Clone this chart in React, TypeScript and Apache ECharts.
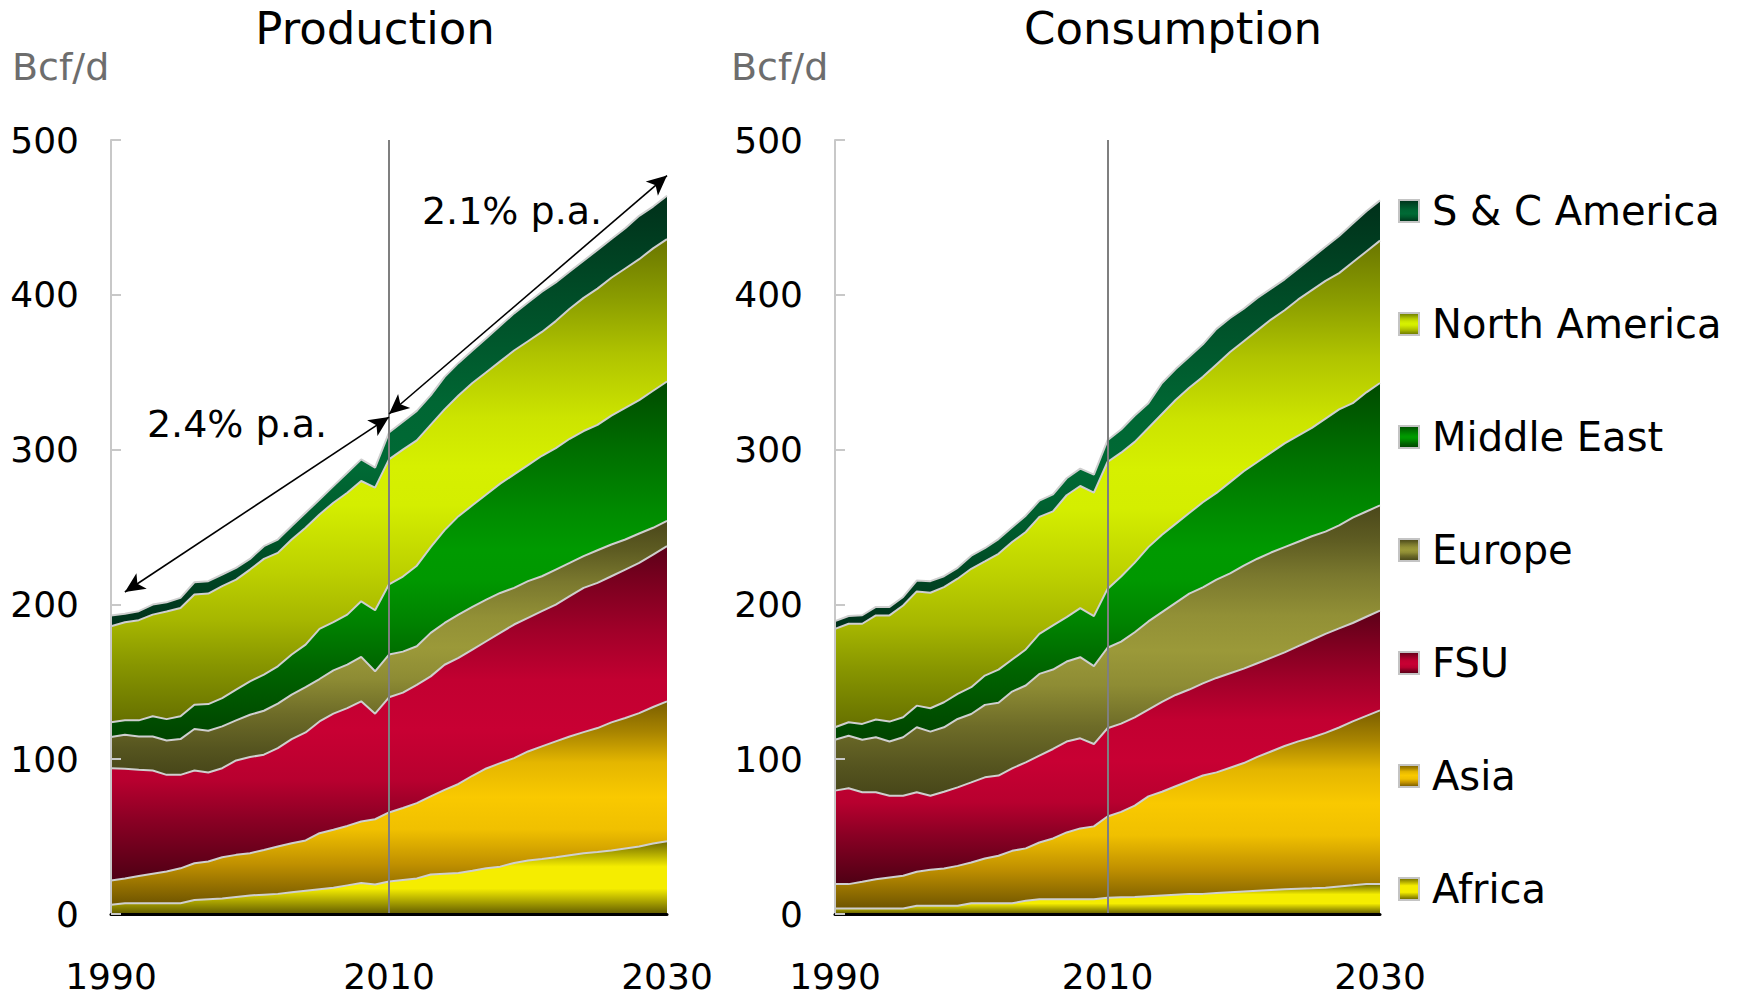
import React, { useEffect, useRef } from 'react';
import * as echarts from 'echarts';

const years = [
  '1990', '1991', '1992', '1993', '1994', '1995', '1996', '1997', '1998', '1999',
  '2000', '2001', '2002', '2003', '2004', '2005', '2006', '2007', '2008', '2009',
  '2010', '2011', '2012', '2013', '2014', '2015', '2016', '2017', '2018', '2019',
  '2020', '2021', '2022', '2023', '2024', '2025', '2026', '2027', '2028', '2029', '2030',
];

// stacking order, bottom to top
const regions = ['Africa', 'Asia', 'FSU', 'Europe', 'Middle East', 'North America', 'S & C America'];
const legendOrder = ['S & C America', 'North America', 'Middle East', 'Europe', 'FSU', 'Asia', 'Africa'];

// Production (Bcf/d)
const prodAfrica = [6, 7, 7, 7, 7, 7, 9, 9.5, 10, 11, 12, 12.5, 13, 14, 15, 16, 17, 18.5, 20, 19, 21, 22, 23, 25.5, 26, 26.5, 28, 29.6, 30.6, 33, 34.5, 35.5, 36.7, 38, 39.3, 40, 41, 42.3, 43.6, 45.5, 47];
const prodAsia = [15.6, 16, 17.6, 19, 20.4, 22.5, 23.8, 24.4, 26.7, 27.2, 27.3, 28.9, 30.6, 31.7, 32.5, 36.2, 37.4, 38.4, 39.8, 42.2, 44.6, 46.5, 48.6, 50.5, 54.2, 57.5, 61.3, 64.4, 66.9, 67.7, 70.5, 72.8, 74.8, 76.7, 78.2, 80.1, 82.8, 84.3, 86.2, 88.2, 90.4];
const prodFSU = [72.6, 70.8, 68.6, 66.7, 62.5, 60.4, 59.9, 57.5, 57.5, 61, 62.1, 61.5, 63.6, 67.3, 69.8, 72.2, 75, 76.1, 77.6, 68.2, 74.4, 74.5, 76.4, 77.5, 80.8, 81.4, 81.5, 82.2, 84.1, 86.3, 86.3, 87.3, 88.4, 90.6, 93.2, 93.8, 94.4, 95.9, 97, 98.5, 100.2];
const prodEurope = [20.1, 22, 21.5, 22, 22.2, 23.1, 26.8, 27, 27, 25.9, 27.3, 28.4, 28.7, 28.7, 29.3, 27.4, 28, 28.1, 28.7, 27.4, 27.6, 26.5, 25, 28.1, 27, 28, 27.6, 26.9, 25.8, 23.7, 23.7, 22.6, 22.6, 21.5, 20.5, 21.1, 20.5, 19.4, 19, 17.3, 16.4];
const prodMiddleEast = [9.5, 9.3, 10.4, 13, 13.8, 14.7, 15.7, 17.2, 18.3, 19.8, 21.6, 23.3, 24.1, 25.9, 27.4, 32.4, 31.1, 32.3, 35.9, 39.4, 45.4, 48.5, 52, 55.4, 60, 63.6, 65.6, 67.9, 70.6, 73.3, 75, 77.8, 78.5, 80.2, 80.8, 81, 83.3, 85.1, 86.2, 88.5, 90];
const prodNorthAmerica = [62.1, 63.4, 64.7, 65.7, 69.5, 70, 71.2, 71.4, 72.3, 71.1, 72.2, 74.8, 73.3, 74.3, 75.5, 73.9, 77.2, 78.7, 77.7, 79.2, 80.7, 82, 81, 79, 78, 78, 79, 79, 79, 80, 80, 80, 82, 84, 86, 88, 89, 90, 91, 92, 92];
const prodSCAmerica = [6.9, 5.5, 5.8, 6.5, 6, 6.5, 7.9, 8, 7.5, 7.6, 6.9, 8.2, 8.6, 8.7, 9.7, 9.7, 10.7, 12.9, 14, 12.9, 17.3, 18, 19, 19, 21, 21, 21, 22, 23, 24, 25, 26, 25, 24, 24, 25, 25, 26, 28, 27, 28];

// Consumption (Bcf/d)
const consAfrica = [3.5, 3.5, 3.5, 3.5, 3.5, 3.5, 5.3, 5.3, 5.3, 5.3, 7, 7, 7, 7, 8.5, 9.5, 9.5, 9.5, 9.5, 9.5, 10.5, 10.8, 11, 11.5, 12, 12.5, 13, 13, 13.5, 14, 14.5, 15, 15.5, 16, 16.3, 16.6, 17, 17.8, 18.5, 19.4, 19.4];
const consAsia = [15.8, 15.8, 17.3, 19, 20.1, 21.2, 22, 23.3, 24.1, 25.8, 26.3, 28.9, 30.6, 33.8, 33.9, 36.7, 39.3, 43.2, 45.8, 47.1, 52.5, 55.2, 59, 64.5, 67, 70, 73, 76.5, 78, 80.5, 83, 86.5, 89.5, 92.5, 95.2, 97.4, 100, 102.7, 105.9, 108.6, 112.1];
const consFSU = [60.4, 61.9, 57.8, 56.1, 52.8, 51.7, 51.3, 47.8, 49.6, 50.7, 51.7, 52.4, 51.8, 53.3, 55.6, 56.1, 57.8, 58.7, 58.2, 53.2, 57, 57, 57, 56, 58, 59, 59, 59.5, 61, 61, 61, 60.5, 60.5, 60.5, 61.5, 63, 64, 64, 63.6, 64, 64.5];
const consEurope = [32.9, 34, 34, 35.6, 35, 37.8, 42, 41.4, 41.6, 44.2, 44.2, 46.8, 47, 49.6, 49.6, 52.8, 51.3, 51.7, 52.4, 50.3, 52, 53, 55, 57, 58, 59.5, 62, 62, 63.5, 64.5, 66.5, 67.5, 68, 68, 67.5, 67, 66, 66.5, 68, 68, 68];
const consMiddleEast = [8, 8.7, 10.2, 11.4, 12.9, 12.9, 14, 15.1, 16.2, 16.2, 17.3, 18.9, 21.5, 20.7, 23.3, 25.9, 28.5, 28.7, 31.7, 32.3, 38, 42, 45, 48, 50, 51, 52, 55, 56, 59, 61, 62.5, 64.5, 67, 68.5, 70, 73, 75, 74, 77, 79];
const consNorthAmerica = [63.6, 63.6, 64.7, 67.3, 68.6, 72.2, 73.8, 74.6, 74.4, 74.4, 76.5, 73.8, 74.8, 75.9, 75.9, 75.5, 73.7, 78.7, 78.9, 79.8, 82, 80, 78, 77, 78, 80, 81, 81, 83, 84, 84, 85, 86, 86, 88, 89, 89, 88, 91, 91, 92];
const consSCAmerica = [5, 5, 5.5, 5.5, 5.5, 5.5, 7, 7.5, 7, 7, 8.5, 8.5, 9.5, 9.5, 10.5, 10.5, 11, 11, 11.2, 11.6, 14, 15, 17, 16, 20, 20, 20, 21, 23, 22, 21, 21, 20, 20, 20, 21, 22, 24, 25, 26, 26];

const prodData = [prodAfrica, prodAsia, prodFSU, prodEurope, prodMiddleEast, prodNorthAmerica, prodSCAmerica];
const consData = [consAfrica, consAsia, consFSU, consEurope, consMiddleEast, consNorthAmerica, consSCAmerica];

// growth annotations
const growthLabels = ['2.4% p.a.', '2.1% p.a.'];

const FONT = '"DejaVu Sans", "Liberation Sans", sans-serif';

const gradientStops: Record<string, [number, string][]> = {
  'Africa': [[0, '#6e6800'], [0.35, '#f5ed00'], [0.65, '#f5ed00'], [1, '#625c00']],
  'Asia': [[0, '#7a5e00'], [0.15, '#a88400'], [0.3, '#e4b600'], [0.47, '#f9c900'], [0.63, '#f0c000'], [0.8, '#c09000'], [1, '#6e5400']],
  'FSU': [[0, '#5c0018'], [0.12, '#7e0020'], [0.25, '#a00029'], [0.4, '#c20031'], [0.55, '#c80033'], [0.7, '#b8002f'], [0.82, '#8a0024'], [1, '#4e0014']],
  'Europe': [[0, '#4a471a'], [0.12, '#5e5c22'], [0.24, '#7a782e'], [0.38, '#929036'], [0.5, '#9b9939'], [0.62, '#8e8c34'], [0.76, '#6e6c28'], [0.9, '#55541f'], [1, '#474619']],
  'Middle East': [[0, '#004a00'], [0.19, '#006e00'], [0.37, '#008c00'], [0.47, '#009a00'], [0.55, '#009800'], [0.67, '#008200'], [0.8, '#006400'], [0.93, '#004e00'], [1, '#004400']],
  'North America': [[0, '#6a7600'], [0.12, '#8a9c00'], [0.24, '#b0c400'], [0.37, '#cce400'], [0.47, '#d6f000'], [0.55, '#d4ee00'], [0.69, '#bcd000'], [0.79, '#a6b600'], [0.88, '#889600'], [1, '#667000']],
  'S & C America': [[0, '#00301a'], [0.23, '#004c27'], [0.48, '#006633'], [0.63, '#006a35'], [0.77, '#005a2c'], [1, '#00301a']],
};

function grad(name: string) {
  return new echarts.graphic.LinearGradient(
    0, 0, 0, 1,
    gradientStops[name].map(([offset, color]) => ({ offset, color }))
  );
}

function buildSeries(data: number[][], gi: number) {
  return regions.map((name, i) => {
    const s: any = {
      name,
      type: 'line',
      stack: gi === 0 ? 'prod' : 'cons',
      xAxisIndex: gi,
      yAxisIndex: gi,
      data: data[i],
      symbol: 'none',
      showSymbol: false,
      lineStyle: { color: '#cfcfcf', width: 2 },
      itemStyle: { color: grad(name) },
      areaStyle: { color: grad(name), opacity: 1 },
      emphasis: { disabled: true },
      silent: true,
      z: 2,
    };
    if (i === 0) {
      s.markLine = {
        silent: true,
        symbol: ['none', 'none'],
        label: { show: false },
        lineStyle: { color: '#7f7f7f', width: 2, type: 'solid' },
        data: [{ xAxis: '2010' }],
      };
    }
    if (i === regions.length - 1 && gi === 0) {
      s.markLine = {
        silent: true,
        symbol: ['arrow', 'arrow'],
        symbolSize: [14, 20],
        label: { show: false },
        lineStyle: { color: '#000', width: 1.6, type: 'solid' },
        data: [
          [{ coord: [1, 208] }, { coord: [20, 321] }],
          [{ coord: [20, 323] }, { coord: [40, 477] }],
        ],
      };
    }
    return s;
  });
}

const grids = [
  { left: 111, top: 140, width: 556, height: 774 },
  { left: 835, top: 140, width: 545, height: 774 },
];

function xAxisFor(gi: number) {
  return {
    type: 'category',
    gridIndex: gi,
    data: years,
    boundaryGap: false,
    z: 10,
    axisLine: { show: true, lineStyle: { color: '#000', width: 3 } },
    axisTick: { show: false },
    splitLine: { show: false },
    axisLabel: { interval: 19, fontFamily: FONT, fontSize: 36, color: '#000', margin: 44 },
  };
}

function yAxisFor(gi: number) {
  return {
    type: 'value',
    gridIndex: gi,
    min: 0,
    max: 500,
    interval: 100,
    z: 10,
    axisLine: { show: true, lineStyle: { color: '#c8c8c8', width: 2 } },
    axisTick: { show: true, inside: true, length: 10, lineStyle: { color: '#c8c8c8', width: 2 } },
    splitLine: { show: false },
    axisLabel: { fontFamily: FONT, fontSize: 36, color: '#000', margin: 32 },
  };
}

function textEl(text: string, x: number, y: number, size: number, color: string, align: string) {
  return {
    type: 'text',
    x,
    y,
    silent: true,
    z: 100,
    style: {
      text,
      font: `${size}px ${FONT}`,
      fill: color,
      textAlign: align,
      align,
      textVerticalAlign: 'middle',
      verticalAlign: 'middle',
    },
  };
}

export default function App() {
  const ref = useRef<HTMLDivElement>(null);
  useEffect(() => {
    const chart = echarts.init(ref.current!, null, { renderer: 'svg' });
    const option: any = {
      animation: false,
      backgroundColor: '#ffffff',
      grid: grids,
      xAxis: [xAxisFor(0), xAxisFor(1)],
      yAxis: [yAxisFor(0), yAxisFor(1)],
      legend: {
        orient: 'vertical',
        left: 1398,
        top: 191,
        padding: 0,
        itemGap: 73,
        itemWidth: 20,
        itemHeight: 22,
        icon: 'rect',
        selectedMode: false,
        textStyle: { fontFamily: FONT, fontSize: 40, color: '#000', padding: [0, 0, 0, 8] },
        data: legendOrder.map((name) => ({
          name,
          itemStyle: { color: grad(name), borderColor: '#c4c4c4', borderWidth: 2 },
        })),
      },
      graphic: [
        textEl('Production', 375, 28, 45, '#000', 'center'),
        textEl('Consumption', 1173, 28, 45, '#000', 'center'),
        textEl('Bcf/d', 12, 67, 38, '#6d6d6d', 'left'),
        textEl('Bcf/d', 731, 67, 38, '#6d6d6d', 'left'),
        textEl(growthLabels[0], 237, 424, 38, '#000', 'center'),
        textEl(growthLabels[1], 512, 211, 38, '#000', 'center'),
      ],
      series: [...buildSeries(prodData, 0), ...buildSeries(consData, 1)],
    };
    chart.setOption(option);
    return () => chart.dispose();
  }, []);
  return (
    <div
      ref={ref}
      style={{ position: 'absolute', left: 0, top: 0, width: 1742, height: 997, background: '#fff' }}
    />
  );
}
